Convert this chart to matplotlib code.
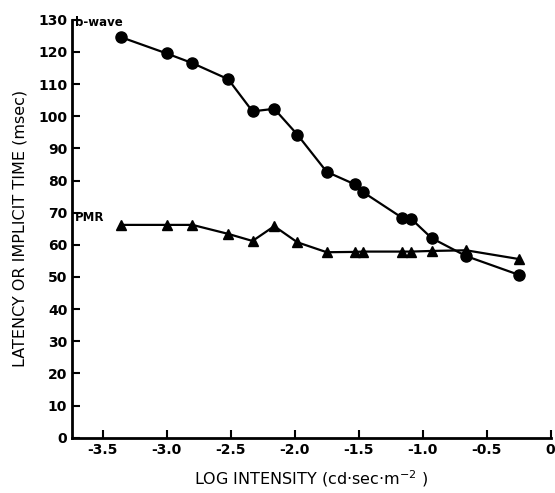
import numpy as np
import matplotlib.pyplot as plt

# log intensity (cd sec m^-2)
log_int = [-3.36, -3.0, -2.8, -2.52, -2.33, -2.16, -1.98, -1.75, -1.53, -1.47,
           -1.16, -1.09, -0.93, -0.66, -0.25]

# b-wave implicit time (msec)
bwave = [124.6, 119.5, 116.5, 111.5, 101.5, 102.3, 94.3, 82.7, 78.8, 76.5,
         68.4, 68.1, 62.1, 56.5, 50.7]

# PMR latency (msec)
pmr = [66.2, 66.2, 66.2, 63.4, 61.2, 65.8, 60.8, 57.7, 57.8, 57.9,
       57.9, 57.9, 58.1, 58.3, 55.6]

xticks = [-3.5, -3.0, -2.5, -2.0, -1.5, -1.0, -0.5, 0]
xticklabels = ['-3.5', '-3.0', '-2.5', '-2.0', '-1.5', '-1.0', '-0.5', '0']
yticks = np.arange(0, 131, 10)

fig = plt.figure(figsize=(5.55, 4.93), dpi=100)
ax = fig.add_axes([0.13, 0.112, 0.862, 0.848])

ax.plot(log_int, bwave, 'k-', marker='o', markersize=8, linewidth=1.6)
ax.plot(log_int, pmr, 'k-', marker='^', markersize=7.5, linewidth=1.6)

ax.set_xlim(-3.74, 0.0)
ax.set_ylim(0, 130)
ax.set_xticks(xticks)
ax.set_xticklabels(xticklabels, fontsize=10, fontweight='bold')
ax.set_yticks(yticks)
ax.set_yticklabels([str(v) for v in yticks], fontsize=10, fontweight='bold')
ax.tick_params(axis='both', direction='in', length=6, width=1.5)
ax.tick_params(axis='x', pad=4)

for s in ['top', 'right']:
    ax.spines[s].set_visible(False)
for s in ['left', 'bottom']:
    ax.spines[s].set_linewidth(2)

ax.text(-3.72, 129, 'b-wave', fontsize=8.5, fontweight='bold', va='center', ha='left')
ax.text(-3.72, 68.5, 'PMR', fontsize=8.5, fontweight='bold', va='center', ha='left')

ax.set_xlabel(r'LOG INTENSITY (cd$\cdot$sec$\cdot$m$^{-2}$ )', fontsize=11.5, labelpad=8)
ax.set_ylabel('LATENCY OR IMPLICIT TIME (msec)', fontsize=11.5, labelpad=8)

fig.savefig('out.png', dpi=100)
